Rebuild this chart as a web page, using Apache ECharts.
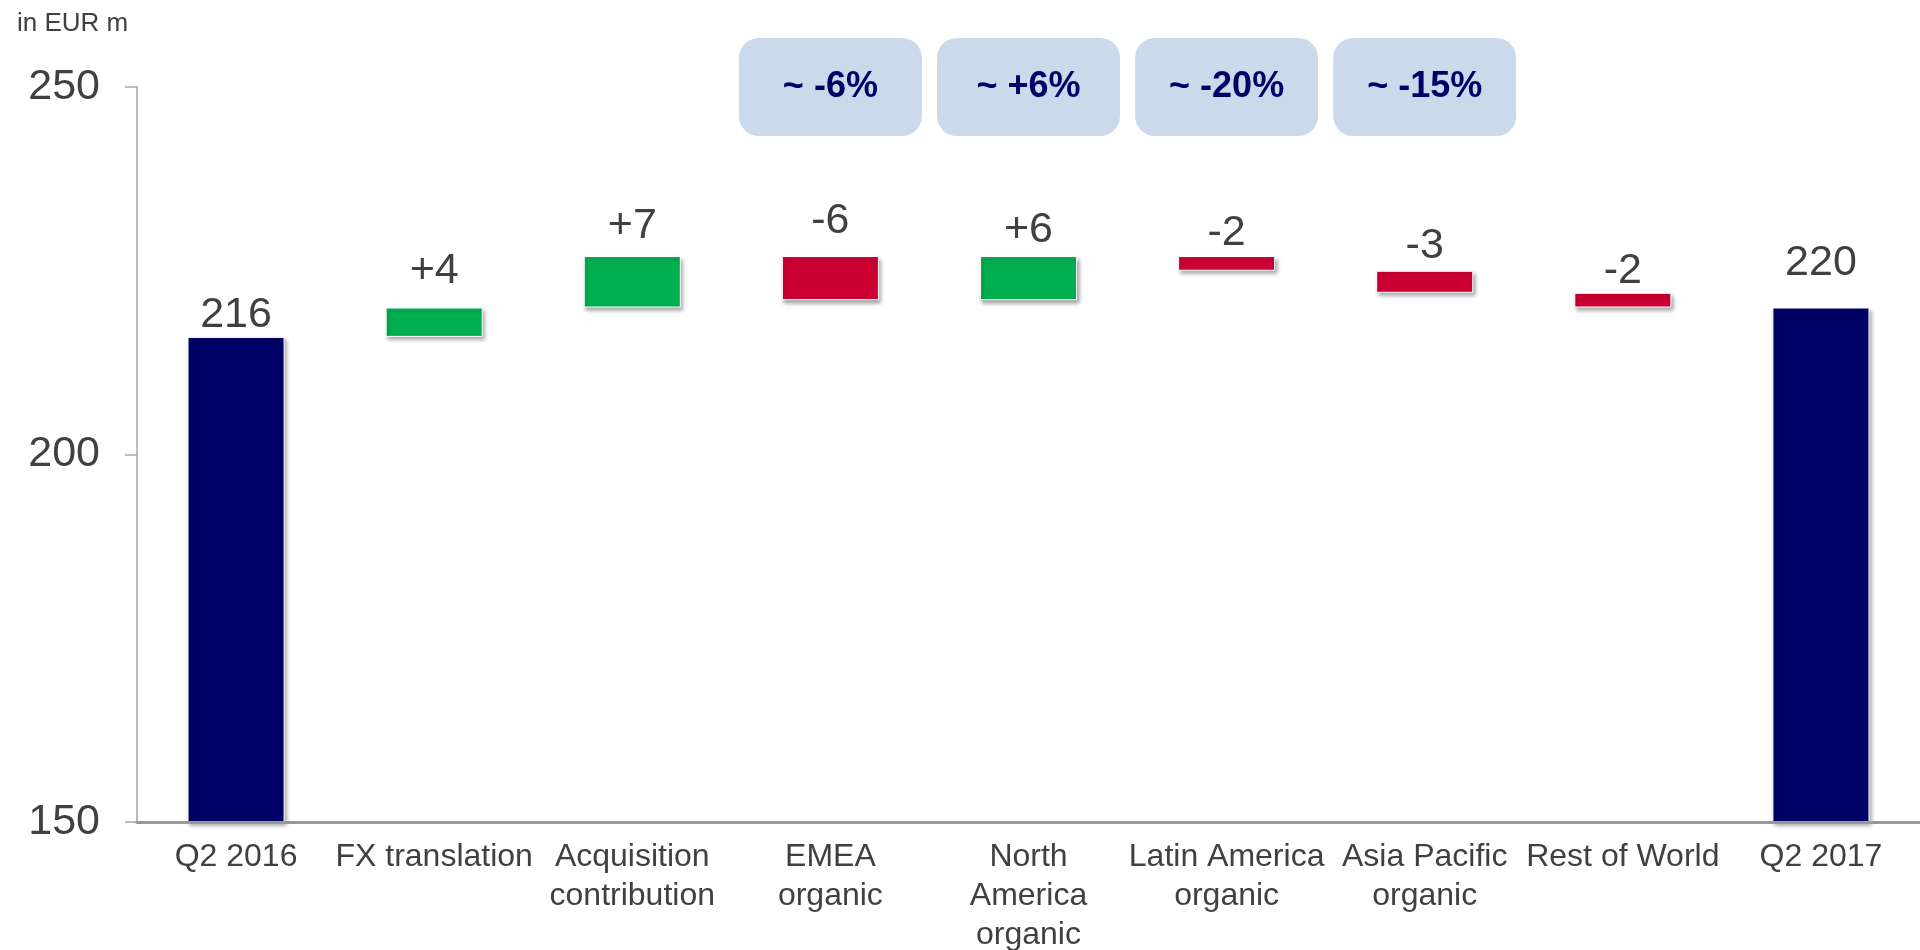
<!DOCTYPE html>
<html>
<head>
<meta charset="utf-8">
<title>Waterfall Q2 2016 - Q2 2017</title>
<script src="https://cdn.jsdelivr.net/npm/echarts@6/dist/echarts.min.js"></script>
<style>
  html, body { margin: 0; padding: 0; background: #fff; }
  #chart { width: 1920px; height: 950px; }
</style>
</head>
<body>
<div id="chart"></div>
<script>
// data (EUR m)
const categories = ['Q2 2016', 'FX translation', 'Acquisition\ncontribution', 'EMEA\norganic',
  'North\nAmerica\norganic', 'Latin America\norganic', 'Asia Pacific\norganic', 'Rest of World', 'Q2 2017']
const startValue = 216
const endValue = 220
const deltas = [4, 7, -6, 6, -2, -3, -2]
const callouts = ['', '', '', '~ -6%', '~ +6%', '~ -20%', '~ -15%', '', '']
const yTicks = { min: 150, max: 250, interval: 50 }

// extra lift of each value label above its bar (px)
const labelGap = [0, 15, 8, 13, 4, 1, 3, 0, 23]

const NAVY = '#000066'
const GREEN = '#00B050'
const RED = '#CC0033'
const TEXT = '#404040'
const FONT = "'Liberation Sans', Arial, sans-serif"

// build waterfall: transparent base + visible piece
const baseData = [0]
const pieceData = [{ value: startValue, itemStyle: { color: NAVY }, label: { formatter: String(startValue) } }]
let running = startValue
deltas.forEach(d => {
  const next = running + d
  baseData.push(Math.min(running, next))
  pieceData.push({
    value: Math.abs(d),
    itemStyle: { color: d >= 0 ? GREEN : RED },
    label: { formatter: (d > 0 ? '+' : '') + d }
  })
  running = next
})
baseData.push(0)
pieceData.push({ value: endValue, itemStyle: { color: NAVY }, label: { formatter: String(endValue) } })
pieceData.forEach((p, i) => { p.label.distance = labelGap[i] })

const calloutData = callouts.map(t => t ? yTicks.max : '-')

const chart = echarts.init(document.getElementById('chart'))
const option = {
  animation: false,
  textStyle: { fontFamily: FONT },
  title: {
    text: 'in EUR m',
    left: 12,
    top: 6,
    textStyle: { fontSize: 26, fontWeight: 'normal', color: TEXT, fontFamily: FONT }
  },
  grid: {
    left: 137,
    right: 0,
    top: 87,
    bottom: 128,
    containLabel: false,
    outerBoundsMode: 'none'
  },
  xAxis: {
    type: 'category',
    data: categories,
    z: 5,
    axisLine: { lineStyle: { color: '#999999', width: 3 } },
    axisTick: { show: false },
    axisLabel: {
      interval: 0,
      margin: 16,
      fontSize: 32,
      lineHeight: 39,
      color: TEXT,
      fontFamily: FONT,
      align: 'center'
    }
  },
  yAxis: {
    type: 'value',
    min: yTicks.min,
    max: yTicks.max,
    interval: yTicks.interval,
    splitLine: { show: false },
    axisLine: { show: true, lineStyle: { color: '#A6A6A6', width: 1.5 } },
    axisTick: { show: true, length: 12, lineStyle: { color: '#A6A6A6', width: 1.5 } },
    axisLabel: { margin: 37, fontSize: 43, color: TEXT, fontFamily: FONT }
  },
  series: [
    {
      type: 'bar',
      stack: 'wf',
      silent: true,
      barWidth: '49%',
      itemStyle: { color: 'transparent' },
      data: baseData
    },
    {
      type: 'bar',
      stack: 'wf',
      silent: true,
      barWidth: '49%',
      itemStyle: {
        borderColor: '#ffffff',
        borderWidth: 1,
        shadowColor: 'rgba(0,0,0,0.35)',
        shadowBlur: 4,
        shadowOffsetX: 2,
        shadowOffsetY: 3
      },
      label: {
        show: true,
        position: 'top',
        fontSize: 43,
        color: TEXT,
        fontFamily: FONT
      },
      data: pieceData
    },
    {
      // callout boxes above the regional bars
      type: 'scatter',
      silent: true,
      clip: false,
      z: 10,
      symbolSize: 1,
      itemStyle: { color: 'rgba(0,0,0,0)', opacity: 1 },
      label: {
        show: true,
        position: 'inside',
        formatter: p => callouts[p.dataIndex],
        width: 183,
        height: 98,
        lineHeight: 98,
        align: 'center',
        verticalAlign: 'middle',
        backgroundColor: '#CBDAEA',
        borderRadius: 20,
        fontSize: 36,
        fontWeight: 'bold',
        color: NAVY,
        fontFamily: FONT
      },
      data: calloutData
    }
  ]
}
chart.setOption(option)
window.addEventListener('resize', () => chart.resize())
</script>
</body>
</html>
